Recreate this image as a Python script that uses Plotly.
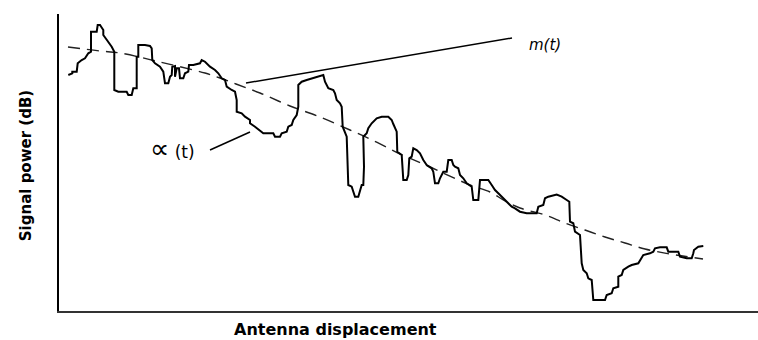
import plotly.graph_objects as go

# Received signal level along the antenna path (fast fading) -- alpha(t)
displacement = [9.3, 13.3, 13.3, 17.7, 18.7, 22.7, 26, 29.3, 32, 32, 37.7, 38.7, 41, 42.7, 44.3, 44.3,
                49.3, 52.7, 55.3, 55.3, 59.3, 67.7, 69.3, 72.7, 74.3, 77.7, 77.7, 79.3, 79.3, 86, 91,
                92.7, 93.3, 96, 101, 104.3, 106, 109.3, 111, 112.7, 113.3, 116, 116, 117.7, 120, 121,
                124.3, 126, 129.3, 130, 134.3, 141, 142.7, 146, 151, 156, 159.3, 162.7, 166, 167.7,
                172.7, 176, 177.7, 177.7, 182.7, 186, 191, 191, 196, 202.7, 204.3, 214.3, 216, 221,
                222.7, 227.7, 229.3, 232.7, 234.3, 237.7, 239.3, 239.3, 242.7, 247.7, 259.3, 264.3,
                266, 269.3, 274.3, 276, 277.7, 281, 282.7, 283.7, 287.7, 289.3, 292.7, 294.3, 296,
                299.3, 301, 302.7, 304.3, 305, 304.3, 307.7, 309.3, 312.7, 317.7, 322.7, 329.3, 332.7,
                334.3, 337.7, 338.3, 341, 342.7, 344.3, 347.7, 349.3, 350.3, 352.7, 354.3, 357.7, 361,
                364.3, 367.7, 372.7, 374.3, 376, 379.3, 381, 384.3, 387.7, 389.3, 392.7, 394.3, 396,
                399.3, 401, 404.3, 407.7, 411, 412.7, 414.3, 419.3, 421, 429.3, 432.7, 436, 439.3,
                442.7, 446, 449.3, 452.7, 456, 461, 467.7, 477.7, 479.3, 484.3, 486, 489.3, 497.7,
                502.7, 507.7, 510.3, 511, 514.3, 516, 521, 522.7, 524.3, 527.7, 529.3, 532.7, 534.3,
                546, 547.7, 552.7, 554.3, 559.3, 559.3, 562.7, 564.3, 569.3, 572.7, 579.3, 582.7,
                584.3, 591, 594.3, 596, 601, 607.7, 609.3, 619.3, 621, 627.7, 632.7, 634.3, 635,
                639.3, 644.3]
signal_power = [236, 237.7, 239.3, 239.3, 247.7, 251, 252.7, 257.7, 259.3, 279.3, 279.3, 286, 286,
                282.7, 281, 276, 269.3, 264.3, 259.3, 221, 219.3, 219.3, 216, 216, 222.7, 222.7,
                254.3, 254.3, 266, 266, 265, 262.7, 251, 247.7, 244.3, 239.3, 227.7, 227.7, 234.3,
                236, 244.3, 245, 234.3, 242.7, 242.7, 232.7, 232.7, 237.7, 239.3, 246, 246, 247.7,
                251, 249.3, 244.3, 241, 237.7, 232.7, 231, 224.3, 221, 219.3, 211, 199.3, 197.7,
                194.3, 191, 187.7, 184.3, 179.3, 177.7, 177.7, 174.3, 174.3, 177.7, 179.3, 184.3,
                186, 191, 196, 204.3, 226, 229.3, 231, 234.3, 236, 229.3, 222.7, 221, 217.7, 211,
                207.7, 204.3, 184.3, 174.3, 126, 124.3, 119.3, 114.3, 114.3, 119.3, 126, 126, 144.3,
                174.3, 177.7, 182.7, 187.7, 192.7, 194.3, 194.3, 191, 187, 179.3, 159.3, 157.7, 156,
                131, 131, 136, 152.7, 154.3, 162.7, 161, 157.7, 151, 146, 142.7, 139.3, 127.7, 127.7,
                132.7, 139.3, 139.3, 151, 151, 146, 144.3, 142.7, 136, 132.7, 127.7, 126, 124.3, 111,
                111, 131, 131, 126, 121, 117.7, 114.3, 111, 107.7, 104.3, 102.7, 99.3, 97.7, 97.7,
                104.3, 106, 112.7, 114.3, 116.5, 114.3, 111, 109.3, 89.3, 87.7, 79.3, 76, 47.7, 41,
                37.7, 32.7, 31, 11, 11, 16, 17.7, 22.7, 24.3, 34.3, 36, 41, 44.3, 46, 47.7, 52.7, 56,
                57.7, 59.3, 62.7, 63.7, 63.7, 59.3, 59.3, 54.3, 52.7, 52.7, 57.7, 61, 64.3, 65]

# Local mean level -- m(t)
mean_displacement = [9, 41, 61, 101, 146, 161, 177, 201, 231, 261, 291, 311, 331, 341, 369, 411,
                     431, 446, 461, 486, 506, 526, 546, 566, 586, 611, 644]
mean_power = [264, 260, 258, 249, 238, 233, 227, 218, 205, 194, 181, 172, 162, 157, 145, 126,
              119, 110, 103, 96, 88, 81, 74, 68, 62, 57, 52]

fig = go.Figure()
fig.add_trace(go.Scatter(x=mean_displacement, y=mean_power, mode="lines",
                         line=dict(color="#222222", width=1.4, dash="12px,7px", shape="spline"),
                         hoverinfo="skip"))
fig.add_trace(go.Scatter(x=displacement, y=signal_power, mode="lines",
                         line=dict(color="black", width=2), hoverinfo="skip"))

# pointer lines for the curve labels
fig.add_shape(type="line", x0=187, y0=228, x1=453, y1=273, xref="x", yref="y",
              line=dict(color="black", width=1.5))
fig.add_shape(type="line", x0=151, y0=161, x1=191, y1=179, xref="x", yref="y",
              line=dict(color="black", width=1.5))

fig.add_annotation(x=486, y=266, xref="x", yref="y", text="<i>m(t)</i>", showarrow=False,
                   font=dict(family="DejaVu Sans", size=15, color="black"))
fig.add_annotation(x=113, y=163, xref="x", yref="y",
                   text='<span style="font-size:27px">∝</span> (t)', showarrow=False,
                   font=dict(family="DejaVu Sans", size=17, color="black"))

fig.add_annotation(x=0.396, y=-0.061, xref="paper", yref="paper", text="<b>Antenna displacement</b>",
                   showarrow=False, xanchor="center", yanchor="middle",
                   font=dict(family="DejaVu Sans", size=16, color="black"))
fig.add_annotation(x=-0.047, y=0.488, xref="paper", yref="paper", text="<b>Signal power (dB)</b>",
                   textangle=-90, showarrow=False, xanchor="center", yanchor="middle",
                   font=dict(family="DejaVu Sans", size=15, color="black"))

fig.update_layout(
    width=758, height=340,
    margin=dict(l=59, r=0, t=14, b=29),
    paper_bgcolor="white", plot_bgcolor="white",
    showlegend=False,
    xaxis=dict(range=[0, 699], showgrid=False, zeroline=False, showticklabels=False,
               ticks="", showline=True, linecolor="#333333", linewidth=2),
    yaxis=dict(range=[0, 297], showgrid=False, zeroline=False, showticklabels=False,
               ticks="", showline=True, linecolor="black", linewidth=2),
)

fig.write_html("out.html")
